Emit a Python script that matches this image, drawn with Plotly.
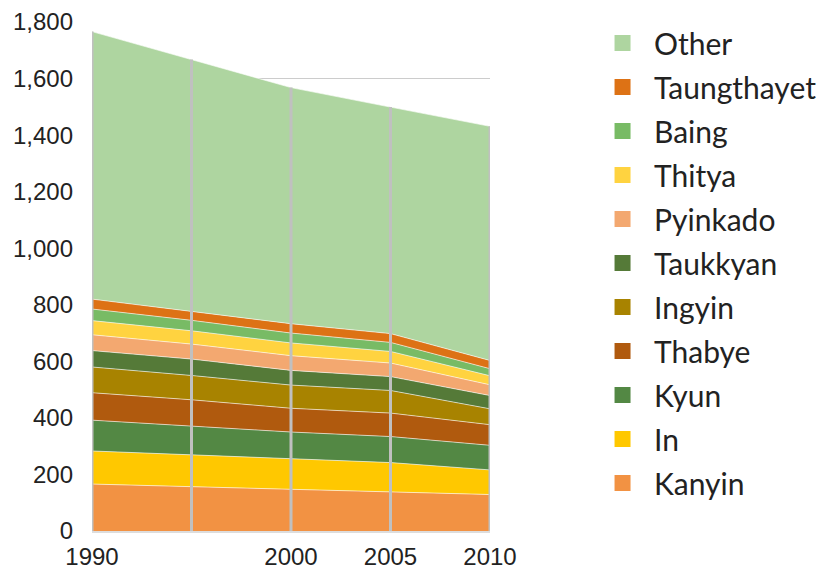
import plotly.graph_objects as go

years = [1990, 1995, 2000, 2005, 2010]
tick_years = [1990, 2000, 2005, 2010]

# bottom to top of the stack
species = ["Kanyin", "In", "Kyun", "Thabye", "Ingyin", "Taukkyan",
           "Pyinkado", "Thitya", "Baing", "Taungthayet", "Other"]
kanyin = [166, 157, 148, 139, 129]
in_ = [117, 112, 106, 103, 87]
kyun = [109, 103, 96, 92, 87]
thabye = [97, 92, 84, 83, 73]
ingyin = [91, 86, 82, 80, 56]
taukkyan = [58, 58, 52, 49, 47]
pyinkado = [56, 53, 52, 48, 38]
thitya = [50, 47, 45, 41, 32]
baing = [41, 37, 35, 32, 25]
taungthayet = [35, 32, 33, 31, 29]
other = [946, 890, 835, 801, 828]
values = [kanyin, in_, kyun, thabye, ingyin, taukkyan,
          pyinkado, thitya, baing, taungthayet, other]
colors = ["#F29243", "#FFC800", "#538844", "#B05A0E", "#A88300", "#557A38",
          "#F3A870", "#FFD340", "#78BB65", "#DD7215", "#AED5A0"]

fig = go.Figure()
for name, vals, col in zip(species, values, colors):
    fig.add_trace(go.Scatter(x=years, y=vals, name=name, stackgroup="one",
                             mode="lines", line=dict(width=0.6, color="white"),
                             fillcolor=col, showlegend=False))

# vertical grey lines drawn over the areas, up to the stack total
totals = [sum(v[i] for v in values) for i in range(len(years))]
for yr, tot in zip(years, totals):
    fig.add_trace(go.Scatter(x=[yr, yr], y=[0, tot], mode="lines",
                             line=dict(color="#C0C0C0", width=3),
                             showlegend=False, hoverinfo="skip"))

# legend entries with square swatches, top of stack first
for name, col in zip(species[::-1], colors[::-1]):
    fig.add_trace(go.Scatter(x=[None], y=[None], mode="markers", name=name,
                             legendgroup=name,
                             marker=dict(symbol="square", size=20, color=col)))

# page body adds an 8px offset, so the figure is 8px smaller
fig.update_layout(
    width=816, height=562,
    margin=dict(l=84, r=334, t=14, b=39),
    plot_bgcolor="white", paper_bgcolor="white",
    font=dict(family="Liberation Sans, Arial", color="#222222", size=24),
    legend=dict(x=0.7145, y=0.984, xref="container", yref="container",
                xanchor="left", yanchor="top",
                traceorder="grouped", tracegroupgap=2, itemwidth=53,
                maxheight=560,
                font=dict(family="Lato", size=30, color="#222222")),
    xaxis=dict(range=[1990, 2010], tickvals=tick_years, showgrid=False,
               zeroline=False, showline=True, linecolor="#DDDDDD", linewidth=2,
               ticks="", ticklabelstandoff=3, automargin=False),
    yaxis=dict(range=[0, 1800], dtick=200, tickformat=",", showgrid=True,
               gridcolor="#CCCCCC", gridwidth=1, zeroline=False,
               ticks="", ticklabelstandoff=18, automargin=False),
)

fig.write_html("out.html")
